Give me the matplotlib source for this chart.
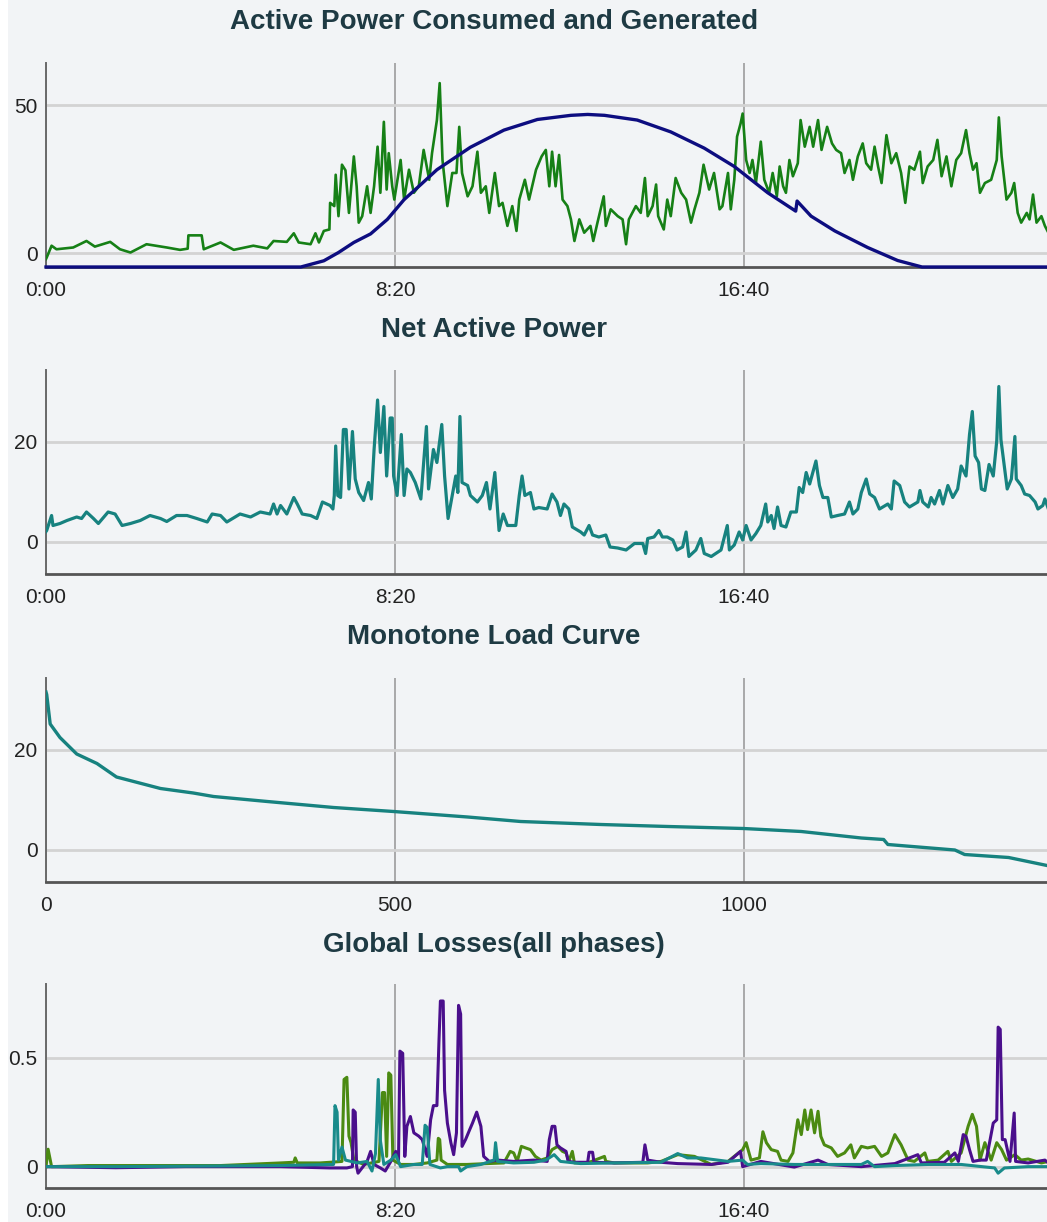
import matplotlib
matplotlib.use("Agg")
import matplotlib.pyplot as plt
from matplotlib.patches import Rectangle

# ------------------------------------------------------------
# Data (minutes of the day)
# ------------------------------------------------------------
cons_t = [0, 1, 8, 15, 39, 58, 70, 92, 106, 121, 144, 173, 192, 203, 204, 223, 226, 250, 269,
          297, 317, 326, 345, 355, 362, 379, 386, 391, 398, 406, 407, 413, 415, 419, 424, 429,
          434, 441, 445, 448, 453, 460, 465, 470, 475, 479, 484, 488, 491, 496, 499, 508, 513,
          520, 527, 534, 541, 549, 553, 560, 564, 568, 575, 582, 588, 592, 596, 604, 611, 618,
          623, 630, 635, 643, 649, 654, 661, 668, 674, 678, 686, 692, 702, 710, 716, 721, 725,
          730, 735, 740, 747, 752, 757, 764, 771, 780, 784, 790, 799, 802, 809, 819, 826, 831,
          835, 845, 852, 858, 862, 869, 874, 877, 885, 890, 895, 902, 910, 917, 924, 929, 936,
          942, 950, 957, 965, 969, 977, 981, 986, 990, 995, 998, 1003, 1008, 1012, 1017, 1024,
          1029, 1036, 1041, 1047, 1051, 1056, 1060, 1065, 1070, 1077, 1081, 1087, 1094, 1099,
          1106, 1111, 1119, 1126, 1132, 1139, 1144, 1151, 1156, 1163, 1170, 1175, 1182, 1187,
          1192, 1197, 1204, 1211, 1218, 1225, 1231, 1237, 1244, 1252, 1256, 1263, 1271, 1277,
          1283, 1290, 1297, 1304, 1311, 1318, 1323, 1328, 1333, 1338, 1345, 1354, 1362, 1365,
          1369, 1376, 1383, 1387, 1392, 1397, 1405, 1409, 1414, 1419, 1426, 1431, 1436]
cons_v = [-2.0, -1.5, 2.5, 1.3, 1.9, 4.1, 2.2, 3.8, 1.3, 0.2, 3.0, 1.9, 1.1, 1.5, 6.0, 6.0, 1.3,
          3.6, 1.1, 2.5, 1.6, 4.1, 3.8, 6.7, 3.6, 3.0, 6.7, 3.6, 7.5, 8.0, 17.0, 15.9, 26.5, 12.5,
          29.9, 28.0, 13.6, 32.7, 22.6, 10.3, 12.5, 22.6, 13.6, 22.6, 36.0, 20.4, 44.4, 21.5,
          33.8, 22.6, 18.1, 31.5, 18.1, 28.2, 20.4, 22.6, 34.9, 24.8, 33.8, 45.0, 57.5, 31.5,
          15.9, 27.1, 27.1, 42.7, 27.1, 19.2, 22.6, 34.3, 20.4, 22.6, 13.6, 27.1, 15.9, 17.0,
          9.2, 15.9, 7.5, 18.1, 24.8, 18.1, 28.2, 32.7, 34.9, 22.6, 34.3, 22.6, 33.2, 18.1, 15.9,
          11.4, 4.1, 11.4, 6.9, 9.2, 4.1, 10.3, 19.2, 9.2, 14.8, 12.5, 11.4, 3.0, 11.4, 15.9,
          13.6, 25.4, 12.5, 15.9, 23.2, 12.5, 8.0, 18.1, 12.5, 25.4, 20.4, 18.1, 10.3, 14.8,
          20.4, 29.9, 21.5, 27.1, 14.8, 15.9, 27.1, 14.8, 24.8, 39.4, 43.8, 47.2, 31.5, 27.1,
          31.5, 23.7, 37.7, 24.8, 20.4, 27.1, 19.2, 29.3, 22.6, 20.4, 31.5, 26.0, 30.4, 45.0,
          36.0, 42.7, 36.0, 45.0, 34.9, 42.7, 37.1, 34.9, 33.8, 27.1, 31.5, 24.8, 32.7, 37.1,
          30.4, 28.2, 36.0, 29.3, 23.7, 39.9, 30.4, 33.8, 27.1, 17.0, 29.3, 28.2, 34.3, 23.7,
          29.3, 31.5, 38.3, 26.0, 32.7, 22.6, 31.5, 33.8, 41.6, 33.8, 28.2, 30.4, 20.4, 23.7,
          24.8, 31.5, 45.9, 32.7, 18.1, 20.4, 23.7, 13.6, 10.3, 13.6, 11.4, 19.8, 10.3, 12.5,
          9.2, 6.9]

gen_t = [0, 365, 398, 419, 441, 465, 489, 513, 537, 560, 608, 656, 704, 752, 776, 800, 847,
         895, 943, 986, 1034, 1074, 1076, 1096, 1130, 1177, 1220, 1255, 1436]
gen_v = [-4.7, -4.7, -2.6, 0.2, 3.6, 6.5, 11.4, 18.1, 23.2, 28.2, 35.8, 41.6, 45.2, 46.6, 46.9,
         46.6, 45.0, 41.0, 35.5, 29.3, 20.4, 14.2, 17.6, 12.5, 7.5, 1.9, -2.5, -4.7, -4.7]

net_t = [0, 1, 8, 10, 20, 30, 44, 51, 58, 68, 75, 89, 99, 109, 121, 135, 149, 164, 173, 187,
         202, 216, 231, 238, 250, 259, 278, 293, 307, 321, 326, 331, 336, 345, 355, 360, 367,
         379, 388, 396, 407, 411, 413, 415, 418, 422, 426, 430, 434, 439, 443, 448, 455, 462,
         466, 470, 475, 479, 484, 488, 493, 496, 498, 503, 509, 513, 517, 522, 529, 537, 545,
         548, 555, 560, 567, 571, 576, 582, 587, 590, 593, 596, 604, 608, 618, 625, 631, 636,
         643, 649, 655, 661, 673, 678, 682, 686, 694, 699, 706, 718, 725, 732, 737, 742, 749,
         754, 766, 771, 778, 783, 792, 802, 808, 819, 831, 843, 855, 859, 862, 871, 878, 883,
         890, 898, 904, 912, 917, 921, 931, 938, 943, 953, 967, 976, 979, 986, 993, 998, 1003,
         1010, 1017, 1024, 1031, 1034, 1039, 1043, 1048, 1053, 1060, 1067, 1075, 1079, 1084,
         1089, 1094, 1099, 1103, 1108, 1113, 1120, 1125, 1134, 1144, 1151, 1156, 1163, 1168,
         1175, 1180, 1187, 1194, 1206, 1211, 1215, 1223, 1230, 1237, 1249, 1252, 1256, 1264,
         1268, 1273, 1280, 1285, 1292, 1299, 1306, 1311, 1318, 1323, 1327, 1331, 1336, 1340,
         1345, 1351, 1357, 1362, 1365, 1368, 1371, 1377, 1383, 1388, 1390, 1397, 1402, 1409,
         1417, 1421, 1428, 1431, 1436]
net_v = [2.0, 2.2, 5.2, 3.2, 3.6, 4.2, 4.9, 4.6, 5.9, 4.6, 3.6, 5.9, 5.5, 3.2, 3.6, 4.2, 5.2,
         4.6, 4.0, 5.2, 5.2, 4.6, 3.9, 5.5, 5.2, 3.9, 5.5, 4.9, 5.9, 5.5, 7.5, 5.5, 7.2, 5.5,
         8.8, 7.5, 5.5, 5.2, 4.6, 7.9, 7.2, 6.5, 9.2, 19.1, 9.2, 8.8, 22.4, 22.4, 10.5, 22.0,
         12.5, 9.8, 8.2, 11.8, 8.5, 18.4, 28.3, 17.8, 27.0, 13.1, 24.7, 24.7, 13.1, 9.2, 21.4,
         9.2, 14.5, 13.8, 11.8, 8.5, 23.0, 10.5, 18.4, 15.8, 23.4, 13.1, 4.6, 9.2, 13.1, 9.8,
         25.0, 11.8, 11.2, 9.2, 7.9, 9.2, 11.8, 6.5, 13.8, 2.2, 5.5, 3.2, 3.2, 9.2, 13.1, 9.2,
         9.8, 6.5, 6.8, 6.5, 9.5, 7.9, 5.2, 7.5, 6.5, 2.9, 1.9, 1.3, 3.2, 1.3, 0.9, 1.3, -1.1,
         -1.3, -1.7, -0.4, -0.4, -2.4, 0.6, 0.9, 2.2, 0.9, 0.9, 0.3, -1.7, -1.1, 1.9, -3.0, -1.7,
         0.6, -2.4, -3.0, -1.7, 3.2, -1.7, -0.7, 1.9, 0.3, 3.2, 0.3, 1.6, 3.2, 7.5, 3.9, 5.2,
         2.6, 6.9, 3.2, 2.9, 5.9, 5.9, 10.8, 9.8, 13.8, 11.5, 14.1, 16.1, 11.2, 8.8, 8.8, 4.9,
         5.2, 5.5, 7.9, 5.5, 6.5, 9.8, 12.5, 9.5, 8.8, 6.5, 7.5, 6.5, 12.1, 11.2, 7.9, 6.9, 7.9,
         10.2, 7.9, 6.9, 8.8, 7.5, 10.2, 7.5, 11.2, 8.8, 10.5, 15.1, 13.1, 21.4, 26.0, 17.1,
         15.8, 10.5, 10.2, 15.4, 13.1, 20.1, 31.0, 20.4, 17.1, 10.5, 12.5, 21.0, 12.5, 11.2,
         9.5, 9.2, 7.9, 6.5, 7.2, 8.5, 6.5]

mono_idx = [0, 1, 6, 20, 44, 73, 101, 164, 211, 240, 317, 412, 498, 604, 680, 795, 891, 999,
            1082, 1168, 1200, 1206, 1302, 1316, 1379, 1434]
mono_v = [31.5, 31.0, 25.1, 22.4, 19.1, 17.2, 14.5, 12.2, 11.3, 10.6, 9.6, 8.4, 7.6, 6.5, 5.6,
          5.0, 4.6, 4.2, 3.6, 2.3, 2.0, 1.0, -0.1, -1.0, -1.6, -3.2]

loss_a_t = [0, 3, 8, 60, 150, 250, 336, 355, 357, 360, 393, 407, 424, 427, 431, 434, 437, 441,
            455, 477, 482, 485, 488, 491, 494, 497, 508, 527, 546, 560, 562, 564, 566, 575, 603,
            632, 656, 665, 670, 675, 681, 687, 694, 701, 709, 718, 725, 733, 740, 745, 749, 754,
            757, 776, 800, 802, 814, 862, 881, 905, 929, 953, 977, 998, 1003, 1010, 1022, 1027,
            1032, 1039, 1048, 1053, 1063, 1070, 1077, 1082, 1087, 1091, 1096, 1101, 1106, 1110,
            1115, 1125, 1134, 1144, 1153, 1158, 1168, 1177, 1187, 1197, 1206, 1216, 1225, 1235,
            1244, 1259, 1263, 1278, 1292, 1297, 1311, 1321, 1327, 1333, 1338, 1345, 1354, 1362,
            1369, 1376, 1388, 1397, 1407, 1426, 1436]
loss_a_v = [0.0, 0.08, 0.0, 0.005, 0.005, 0.005, 0.017, 0.02, 0.04, 0.017, 0.017, 0.02, 0.024,
            0.40, 0.41, 0.14, 0.11, 0.03, 0.01, 0.024, 0.34, 0.34, 0.047, 0.43, 0.42, 0.03, 0.01,
            0.01, 0.017, 0.03, 0.13, 0.124, 0.03, 0.01, 0.01, 0.014, 0.017, 0.07, 0.063, 0.024,
            0.093, 0.086, 0.078, 0.047, 0.03, 0.04, 0.078, 0.093, 0.07, 0.063, 0.024, 0.07, 0.017,
            0.017, 0.047, 0.024, 0.017, 0.017, 0.024, 0.055, 0.047, 0.01, 0.024, 0.078, 0.11,
            0.03, 0.04, 0.16, 0.11, 0.078, 0.07, 0.03, 0.024, 0.063, 0.215, 0.147, 0.26, 0.17,
            0.26, 0.155, 0.254, 0.139, 0.1, 0.086, 0.047, 0.063, 0.1, 0.04, 0.093, 0.086, 0.093,
            0.047, 0.063, 0.147, 0.1, 0.03, 0.024, 0.063, 0.024, 0.03, 0.07, 0.024, 0.063, 0.185,
            0.24, 0.185, 0.03, 0.11, 0.03, 0.11, 0.078, 0.03, 0.055, 0.03, 0.035, 0.017, 0.024]

loss_b_t = [0, 100, 200, 336, 407, 431, 439, 440, 443, 445, 447, 460, 465, 470, 479, 486, 494,
            501, 505, 507, 511, 514, 517, 522, 527, 534, 539, 546, 551, 555, 560, 563, 565, 569,
            571, 575, 580, 584, 588, 591, 594, 596, 601, 607, 611, 617, 623, 627, 635, 647, 670,
            699, 718, 721, 725, 729, 732, 737, 745, 748, 757, 776, 778, 783, 785, 814, 855, 858,
            862, 881, 905, 953, 977, 995, 998, 1024, 1072, 1106, 1120, 1168, 1216, 1249, 1254,
            1287, 1302, 1307, 1314, 1318, 1323, 1328, 1338, 1347, 1357, 1362, 1364, 1367, 1370,
            1374, 1381, 1387, 1389, 1407, 1431, 1436]
loss_b_v = [0.0, -0.005, 0.0, 0.0, -0.006, -0.006, 0.0, 0.26, 0.25, 0.0, -0.03, 0.024, 0.07,
            0.01, -0.006, -0.02, 0.024, 0.07, 0.03, 0.53, 0.52, 0.047, 0.185, 0.23, 0.155, 0.14,
            0.124, 0.047, 0.215, 0.28, 0.28, 0.58, 0.76, 0.76, 0.35, 0.2, 0.11, 0.055, 0.155,
            0.74, 0.70, 0.093, 0.124, 0.17, 0.2, 0.25, 0.185, 0.047, 0.024, 0.03, 0.024, 0.03,
            0.024, 0.124, 0.185, 0.185, 0.1, 0.086, 0.07, 0.024, 0.02, 0.02, 0.066, 0.066, 0.02,
            0.017, 0.02, 0.1, 0.03, 0.02, 0.014, 0.01, 0.02, 0.07, 0.0, 0.024, -0.002, 0.03, 0.01,
            0.0, 0.014, 0.055, 0.017, 0.02, 0.063, 0.024, 0.147, 0.139, 0.078, 0.024, 0.03, 0.03,
            0.2, 0.215, 0.64, 0.63, 0.124, 0.124, 0.024, 0.246, 0.024, 0.017, 0.03, 0.017]

loss_c_t = [0, 100, 200, 336, 412, 414, 417, 419, 424, 429, 446, 460, 467, 472, 476, 479, 484,
            494, 501, 508, 527, 539, 543, 546, 550, 565, 575, 591, 594, 603, 623, 642, 644, 647,
            670, 699, 716, 728, 737, 766, 814, 881, 905, 919, 938, 977, 998, 1005, 1024, 1072,
            1120, 1168, 1177, 1187, 1216, 1263, 1311, 1359, 1364, 1373, 1407, 1436]
loss_c_v = [0.0, 0.0, 0.002, 0.005, 0.01, 0.28, 0.25, 0.03, 0.09, 0.03, 0.017, 0.024, -0.02,
            0.06, 0.40, 0.12, 0.01, 0.03, 0.055, 0.0, 0.01, 0.01, 0.19, 0.18, 0.01, -0.006, 0.0,
            0.0, -0.02, 0.0, 0.01, 0.03, 0.11, 0.024, 0.017, 0.02, 0.03, 0.055, 0.024, 0.014,
            0.017, 0.02, 0.06, 0.04, 0.04, 0.024, 0.03, 0.01, 0.014, 0.01, 0.01, 0.01, 0.024,
            0.0, 0.005, 0.01, 0.01, -0.006, -0.03, -0.006, 0.0, 0.0]

time_ticks = [0, 500, 1000]
time_labels = ["0:00", "8:20", "16:40"]
index_ticks = [0, 500, 1000]
index_labels = ["0", "500", "1000"]

# ------------------------------------------------------------
# Style
# ------------------------------------------------------------
BG = "#f2f4f6"
TITLE_COLOR = "#1e3a43"
W, H = 1047, 1222
XMAX = 1434

plt.rcParams["font.family"] = ["Liberation Sans", "DejaVu Sans"]


def style_axis(ax, ylim, yticks, xticks, xlabels):
    ax.set_facecolor(BG)
    ax.set_xlim(0, XMAX)
    ax.set_ylim(*ylim)
    ax.set_xticks(xticks)
    ax.set_xticklabels(xlabels)
    ax.set_yticks(yticks)
    ax.set_yticklabels([f"{t:g}" for t in yticks])
    ax.tick_params(axis="both", length=0, labelsize=15, colors="#222222")
    ax.tick_params(axis="x", pad=10)
    ax.tick_params(axis="y", pad=6)
    ax.grid(axis="x", color="#9c9c9c", lw=1.2)
    ax.grid(axis="y", color="#d3d3d3", lw=2)
    ax.set_axisbelow(True)
    for side in ["top", "right"]:
        ax.spines[side].set_visible(False)
    ax.spines["left"].set_color("#6a6a6a")
    ax.spines["left"].set_linewidth(1.4)
    ax.spines["bottom"].set_color("#555555")
    ax.spines["bottom"].set_linewidth(2)


def panel(top, bottom):
    return fig.add_axes([46 / W, 1 - bottom / H, 1 - 46 / W, (bottom - top) / H])


def title(text, y_px):
    fig.text(494 / W, 1 - y_px / H, text, ha="center", va="center",
             fontsize=20, fontweight="bold", color=TITLE_COLOR)


fig = plt.figure(figsize=(W / 100, H / 100), dpi=100, facecolor=BG)
fig.patches.append(Rectangle((0, 0), 8 / W, 1, transform=fig.transFigure,
                             facecolor="white", edgecolor="none", zorder=0))

# Panel 1: consumed / generated
ax1 = panel(63, 267)
ax1.plot(cons_t, cons_v, color="#168016", lw=1.9, zorder=3)
ax1.plot(gen_t, gen_v, color="#0d0d80", lw=2.4, zorder=4, clip_on=False)
style_axis(ax1, (-4.7, 64.3), [0, 50], time_ticks, time_labels)
title("Active Power Consumed and Generated", 22)

# Panel 2: net active power
ax2 = panel(370, 574)
ax2.plot(net_t, net_v, color="#17827f", lw=2.3, zorder=3)
style_axis(ax2, (-6.5, 34.3), [0, 20], time_ticks, time_labels)
title("Net Active Power", 330)

# Panel 3: monotone load curve
ax3 = panel(678, 882)
ax3.plot(mono_idx, mono_v, color="#17827f", lw=2.4, zorder=3)
style_axis(ax3, (-6.5, 34.3), [0, 20], index_ticks, index_labels)
title("Monotone Load Curve", 637)

# Panel 4: losses
ax4 = panel(984, 1188)
ax4.plot(loss_a_t, loss_a_v, color="#4b8a12", lw=2.2, zorder=3)
ax4.plot(loss_b_t, loss_b_v, color="#4a0f8c", lw=2.2, zorder=4)
ax4.plot(loss_c_t, loss_c_v, color="#198b8b", lw=2.2, zorder=5)
style_axis(ax4, (-0.098, 0.838), [0, 0.5], time_ticks, time_labels)
title("Global Losses(all phases)", 945)

fig.savefig("out.png", dpi=100, facecolor=BG)
